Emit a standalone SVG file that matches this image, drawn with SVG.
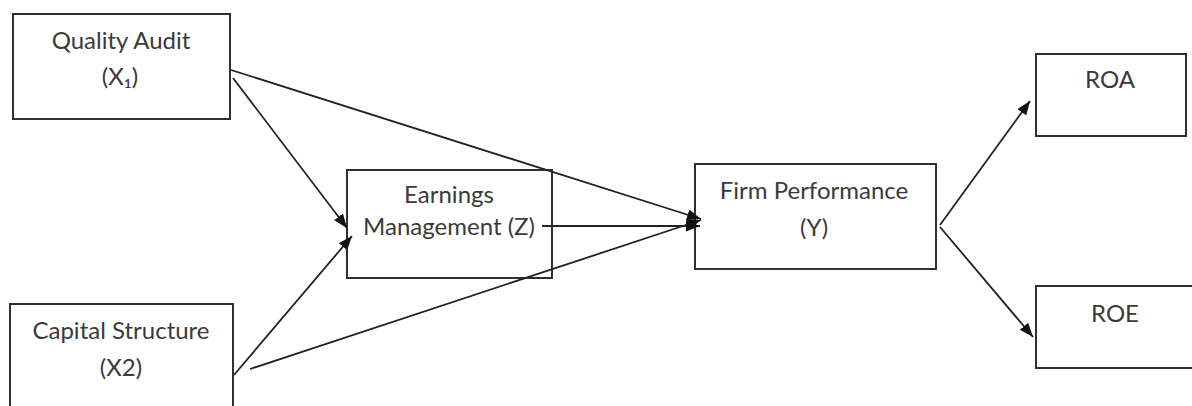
<svg xmlns="http://www.w3.org/2000/svg" width="1192" height="406" viewBox="0 0 1192 406">
  <style>
    .box { fill: #ffffff; stroke: #303030; stroke-width: 2; }
    .label { font-family: Lato, "Open Sans", sans-serif; font-size: 24px; fill: #3a3a3a; text-anchor: middle; }
    .link { fill: none; stroke: #222222; stroke-width: 1.8; marker-end: url(#arrow); }
  </style>
  <defs>
    <marker id="arrow" markerUnits="userSpaceOnUse" markerWidth="16" markerHeight="12" refX="14" refY="5.5" orient="auto">
      <path d="M0,0 L14,5.5 L0,11 z" fill="#111111"/>
    </marker>
  </defs>
  <rect width="1192" height="406" fill="#ffffff"/>

  <g id="quality-audit">
    <rect class="box" x="13" y="14" width="217" height="105"/>
    <text class="label" x="121" y="49" font-size="25">Quality Audit</text>
    <text class="label" x="120" y="85">(X₁)</text>
  </g>

  <g id="capital-structure">
    <rect class="box" x="10" y="304" width="223" height="120"/>
    <text class="label" x="121" y="339">Capital Structure</text>
    <text class="label" x="121" y="376">(X2)</text>
  </g>

  <g id="earnings-management">
    <rect class="box" x="347" y="170" width="205" height="108"/>
    <text class="label" x="449" y="203">Earnings</text>
    <text class="label" x="449" y="235" font-size="23">Management (Z)</text>
  </g>

  <g id="firm-performance">
    <rect class="box" x="695" y="164" width="241" height="105"/>
    <text class="label" x="814" y="199">Firm Performance</text>
    <text class="label" x="814" y="236">(Y)</text>
  </g>

  <g id="roa">
    <rect class="box" x="1036" y="54" width="150" height="82"/>
    <text class="label" x="1110" y="88">ROA</text>
  </g>

  <g id="roe">
    <rect class="box" x="1036" y="286" width="170" height="82"/>
    <text class="label" x="1115" y="322">ROE</text>
  </g>

  <!-- drawn last so the lines run over the box edges -->
  <g id="connectors">
    <line class="link" x1="231" y1="70" x2="701" y2="219"/>
    <line class="link" x1="233" y1="78" x2="347" y2="228"/>
    <line class="link" x1="234" y1="375" x2="352" y2="236"/>
    <line class="link" x1="250" y1="369" x2="701" y2="220"/>
    <line class="link" x1="542" y1="226" x2="700" y2="226"/>
    <line class="link" x1="940" y1="225" x2="1030" y2="101"/>
    <line class="link" x1="940" y1="227" x2="1033" y2="337"/>
  </g>
</svg>
